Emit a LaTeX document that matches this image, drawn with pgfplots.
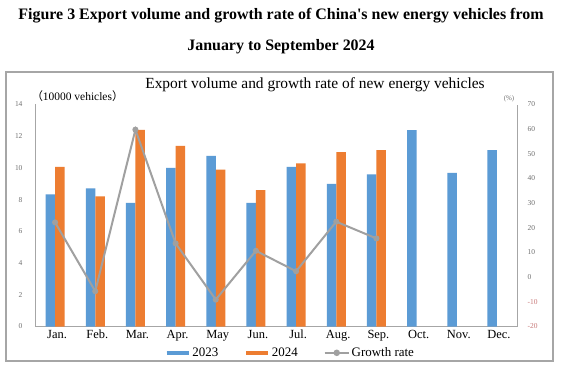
\documentclass[border=0pt]{standalone}
\usepackage{pgfplots}
\pgfplotsset{compat=1.18}
\usepackage{fontspec}
\setmainfont{Liberation Serif}
\newfontfamily\cjk{Noto Sans CJK SC}
\definecolor{c23}{HTML}{5B9BD5}
\definecolor{c24}{HTML}{ED7D31}
\definecolor{cgr}{HTML}{A0A0A0}
\definecolor{axc}{HTML}{A6A6A6}
\definecolor{tkc}{HTML}{707070}
\definecolor{negc}{HTML}{C87878}
\begin{document}
\begin{tikzpicture}[x=1bp,y=1bp]
\useasboundingbox[fill=white] (0,0) rectangle (562,367);
\node[font=\fontsize{16}{18}\selectfont\bfseries] at (281,351) {Figure 3 Export volume and growth rate of China\textquotesingle s new energy vehicles from};
\node[font=\fontsize{16}{18}\selectfont\bfseries] at (281,320) {January to September 2024};
\draw[axc, line width=1.2pt] (6,6) rectangle (553,295);
\begin{axis}[
  at={(35bp,40.5bp)}, anchor=south west,
  scale only axis, width=482bp, height=222bp,
  xmin=-0.5, xmax=11.5, ymin=0, ymax=14,
  ybar=0pt, bar width=9.5bp,
  axis y line*=left, axis x line*=bottom,
  axis line style={axc, line width=1pt, -},
  xtick={0,...,11}, xticklabels={Jan.,Feb.,Mar.,Apr.,May,Jun.,Jul.,Aug.,Sep.,Oct.,Nov.,Dec.},
  xticklabel style={font=\fontsize{12.5}{14}\selectfont, text=black, yshift=0bp, xshift=2bp},
  ytick={0,2,...,14},
  yticklabel style={font=\fontsize{7.5}{8}\selectfont, text=tkc, xshift=-9bp},
  /pgf/number format/assume math mode=true,
  major tick length=0pt,
  legend style={at={(0.53,-0.085)}, anchor=north, draw=none, fill=none, legend columns=3,
    font=\fontsize{13}{14}\selectfont, inner sep=0pt, /tikz/every even column/.append style={column sep=24bp}},
  legend image code/.code={\draw[line width=3.5pt] (0,0) -- (22bp,0);},
]
\addplot[fill=c23, draw=none, color=c23] coordinates {(0,8.33) (1,8.71) (2,7.8) (3,10.0) (4,10.76) (5,7.8) (6,10.07) (7,9.0) (8,9.59) (9,12.38) (10,9.69) (11,11.12)};
\addlegendentry{2023}
\addplot[fill=c24, draw=none, color=c24] coordinates {(0,10.07) (1,8.2) (2,12.4) (3,11.39) (4,9.9) (5,8.6) (6,10.28) (7,11.0) (8,11.12)};
\addlegendentry{2024}
\addlegendimage{line legend, cgr, line width=2pt, mark=*, mark size=2pt, legend image code/.code={\draw[cgr, line width=2pt] (0,0) -- (24bp,0); \fill[cgr] (12bp,0) circle (2.2bp);}}
\addlegendentry{Growth rate}
\end{axis}
\begin{axis}[
  at={(35bp,40.5bp)}, anchor=south west,
  scale only axis, width=482bp, height=222bp,
  xmin=-0.5, xmax=11.5, ymin=-20, ymax=70,
  axis y line*=right, axis x line=none,
  axis line style={axc, line width=1pt, -},
  ytick={-20,-10,...,70},
  yticklabel style={font=\fontsize{7.5}{8}\selectfont, text=tkc, xshift=7bp},
  yticklabel={\ifdim\tick pt<0pt\textcolor{negc}{\pgfmathprintnumber{\tick}}\else\pgfmathprintnumber{\tick}\fi},
  /pgf/number format/assume math mode=true,
  major tick length=0pt,
]
\addplot[cgr, line width=2pt, mark=*, mark size=2pt, mark options={fill=cgr, draw=cgr}] coordinates {(0,22.2) (1,-5.7) (2,59.8) (3,13.7) (4,-9.1) (5,10.7) (6,2.4) (7,22.5) (8,15.7)};
\end{axis}
\node[font=\fontsize{15.5}{17}\selectfont] at (315,282) {Export volume and growth rate of new energy vehicles};
\node[font=\fontsize{11.5}{13}\selectfont, anchor=west] at (28,271) {{\cjk （}10000 vehicles{\cjk ）}};
\node[font=\fontsize{7}{8}\selectfont, text=tkc] at (509,268) {(\%)};
\end{tikzpicture}
\end{document}
